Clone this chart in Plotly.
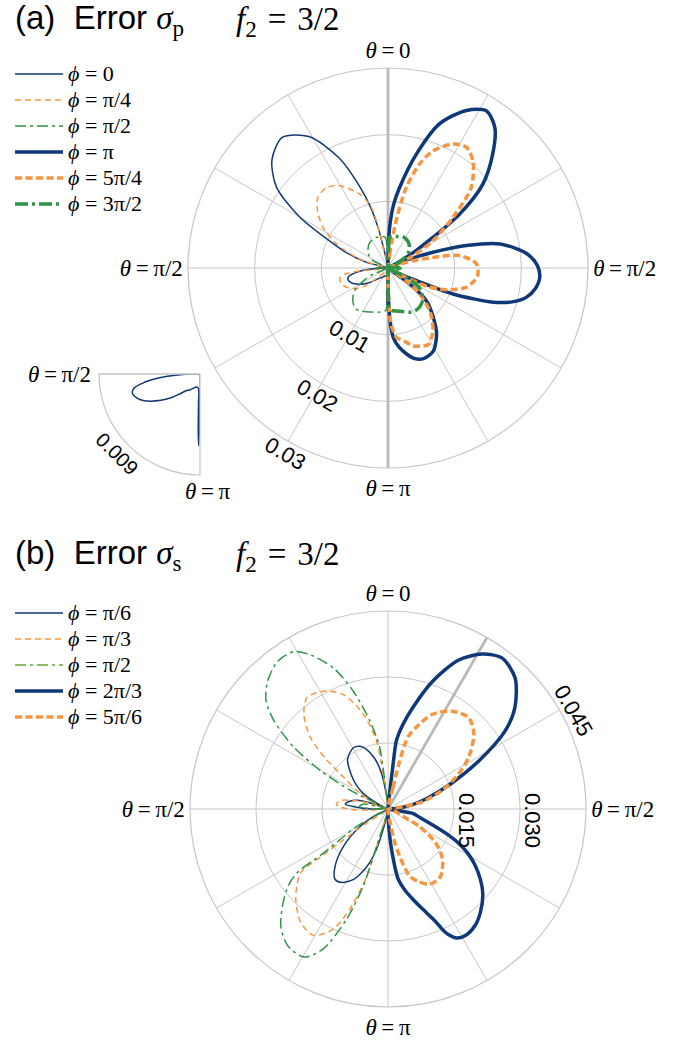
import math
import plotly.graph_objects as go

W, H = 693, 1040
NAVY = "#0f3878"
ORANGE = "#f8953f"
GREEN = "#2e9446"
GREEN_LEG_B = "#67a82c"
GRID = "#c6c6c6"
THICKGRID = "#b9b9b9"
SERIF = "Liberation Serif, DejaVu Serif, serif"
SANS = "Liberation Sans, Arial, sans-serif"

# ---------------- data: panel (a), r in units of 1e-3 ----------------
a_phi0_theta = [179, 180.3, 181, 181.8, 183, 186, 195, 205, 213, 219, 226, 231, 236, 241, 245, 249, 254, 258,
                261.5, 264, 266, 268, 270, 273, 285, 290, 294, 300, 306, 313, 321, 329, 336, 341, 344, 346.3,
                347.5, 349]
a_phi0_r = [0, 3, 6.4, 5, 2.5, 1.3, 1.2, 1.4, 1.7, 1.9, 2.6, 3.4, 4.2, 5.0, 5.6, 6.0, 6.26, 6.0,
            5.0, 4.0, 2.9, 1.8, 0.8, 0, 3.4, 6.5, 9.0, 15.3, 20.7, 23.8, 25.2, 23.0, 18.1, 12.8, 9.5, 6.0,
            3.0, 0]

a_phi1_theta = [222, 228, 233, 242, 251, 258, 262, 264, 266, 285, 288.6, 295, 302, 309, 315, 322.6, 329.6,
                339, 343, 345.3, 346.3, 347, 348]
a_phi1_r = [0, 2.4, 4.7, 6.5, 7.35, 7.4, 6.5, 4, 0, 2.3, 5, 8.5, 11.5, 13.6, 14.9, 15.2, 14.3,
            11.9, 10.3, 8.9, 5.3, 2.2, 0]

a_phi2_theta = [180, 181, 183, 190, 199, 206, 212, 218, 225, 233, 238, 243, 247, 252, 262, 268, 275, 285,
                296, 303, 311, 324, 339, 350, 355, 358, 360]
a_phi2_r = [0, 5, 6.4, 6.7, 7.0, 7.3, 7.6, 7.8, 7.4, 6.5, 5.5, 4.0, 2.5, 0, 1.2, 1.8, 1.3, 0,
            2.5, 3.4, 4.0, 4.7, 4.9, 4.8, 4.6, 3.0, 0]

a_phi3_theta = [0, 1, 2.3, 5, 8.2, 14, 19.7, 26.5, 32, 37.2, 42.6, 48.5, 53, 55.7, 58, 60, 62, 63.5,
                67, 70.8, 74, 77.9, 84, 89, 93.5, 98, 102, 105, 108, 111.8, 114, 117, 119.5,
                126, 130.5, 137.6, 143.7, 151.4, 158.6, 164, 167.8, 172, 175.6, 178, 179.3, 180]
a_phi3_r = [0, 3, 6.1, 9.5, 12.2, 17.6, 23.0, 26.4, 27.8, 26.5, 23.2, 19.0, 13.5, 8.2, 5, 3, 1, 0,
            3, 7.15, 12.2, 17.2, 20.9, 22.4, 22.8, 22.3, 21.2, 19.5, 16.6, 10.5, 4.7, 1.5, 0,
            3.5, 7.6, 10.1, 12.3, 14.2, 14.6, 14.1, 13.2, 12, 10.5, 7.5, 4, 0]

a_phi4_theta = [5, 7, 8.5, 10, 12.8, 16.9, 21, 27.7, 33, 38.4, 45.9, 52, 58.7, 64, 68, 70,
                73, 76.7, 80.2, 87.4, 94.9, 99, 103.9, 109, 112, 115, 117.5, 120,
                124, 129.4, 135.7, 140, 144.3, 148, 152.2, 155.7, 162, 166, 172.9, 176, 177.7, 179.3, 180]
a_phi4_r = [0, 2, 4.5, 7.7, 12.4, 16.3, 18.8, 21.0, 21.6, 20.5, 17.4, 12.4, 7.9, 4.2, 1.5, 0,
            3, 6.9, 10.9, 13.3, 13.5, 13, 12.1, 10, 8.5, 6.5, 3, 0,
            3, 6.1, 9.0, 10.3, 11.6, 12.3, 13.0, 12.8, 12.3, 11.5, 10.5, 9, 7.5, 4, 0]

a_phi5_theta = [0, 1.5, 3, 8, 15, 25, 33, 41, 48, 54, 63, 70, 85, 92, 98, 105,
                117, 122, 127, 133, 140, 146, 152, 160, 168, 175, 178, 179.2, 180]
a_phi5_r = [0, 3, 4.6, 4.8, 4.9, 5.2, 5.1, 4.8, 4.3, 3.7, 2.0, 0, 1.3, 1.8, 1.2, 0,
            3.0, 5.5, 6.4, 7.1, 7.5, 7.6, 7.5, 7.0, 6.6, 6.4, 6.2, 4, 0]

# ---------------- data: panel (b) ----------------
b_phi0_theta = [192, 193.5, 196, 199, 203, 206, 212, 217, 222.8, 230, 238, 244, 248, 270, 272, 276.6, 281,
                286, 289, 291, 296, 302, 307, 312.9, 321, 330.5, 336, 340, 345, 349, 352, 355]
b_phi0_r = [0, 5, 9.5, 13, 16, 17.8, 19.7, 20, 17.7, 13.2, 7.5, 3, 0, 4, 6, 9.75, 9,
            7.3, 4, 0, 2, 6.6, 9, 11.4, 14.6, 16, 15.6, 14.5, 12, 9, 5, 0]

b_phi1_theta = [194, 195.5, 196.5, 197, 197.5, 199, 200.8, 204.4, 210.4, 217.7, 225.7, 230, 233.9, 234.6,
                235.2, 236.5, 238, 266, 270, 275, 280, 285, 288, 290, 296, 301, 305.7, 308.8, 312.7,
                318.4, 324, 331.4, 338.7, 345.4, 350.4, 352, 353.5, 354.5]
b_phi1_r = [0, 3, 6, 10, 16, 20, 24.3, 29.9, 33.3, 32.5, 29.3, 27, 24.6, 18,
            13.3, 5.8, 0, 4, 9, 11.8, 11, 7, 3, 0, 4.6, 8.5, 12.5, 18, 24,
            28.8, 31.3, 30.5, 27.9, 22.3, 15.7, 8.1, 3, 0]

b_phi2_theta = [194, 195.5, 197, 197.8, 200.6, 204.8, 209.6, 216.4, 222.6, 229.1, 233, 235, 235.7, 238,
                240.8, 242, 243, 270, 275, 280, 285, 289, 295.9, 296.4, 299.7, 303.3, 307.7, 311.5, 316.7,
                323.2, 329.1, 333.3, 338.9, 343.6, 348.4, 352.4, 353.4, 354.5, 355]
b_phi2_r = [0, 4, 8.9, 18.4, 26.7, 35, 38.7, 38.5, 36, 31.3, 28, 25, 17.7, 12,
            8.2, 4, 0, 3, 6.5, 6, 2.5, 0, 2.9, 9.6, 17.7, 25.6, 32.7, 37, 39.9,
            41.9, 41.7, 39.2, 34.3, 27.9, 20.4, 14.1, 6.6, 2, 0]

b_phi3_theta = [5, 6, 6.5, 7, 10, 13.7, 19.2, 25.4, 31.3, 37, 44.1, 51.4, 56.3, 62, 68, 75, 80, 86, 91,
                100, 105, 109.6, 113, 116, 119, 122.5, 127.3, 132, 138.2, 143, 148.5, 152, 155, 157.3,
                161, 165, 168, 171.7, 175, 177.5, 179]
b_phi3_r = [0, 4.3, 10, 15.6, 19.5, 23.7, 30.7, 37.5, 41.2, 43, 41.5, 36.9, 32, 23.5, 15.5, 9, 5.5, 2, 0,
            5.7, 7.5, 10.7, 14.5, 18, 20.7, 23.3, 26.4, 29, 31.5, 33, 33.7, 33.2, 31, 27.5,
            24, 21, 19, 16.1, 9.2, 4, 0]

b_phi4_theta = [12, 13, 13.5, 14.5, 16, 19, 25.2, 33.3, 41.5, 48.9, 57.3, 63.5, 70.9, 78.2, 81, 85,
                106, 112, 116, 119.2, 125.4, 132.8, 141.8, 146, 151.3, 157, 162.2, 164, 166.2, 168.5, 171, 173]
b_phi4_r = [0, 5, 10, 15, 17.5, 19.6, 23.8, 26.6, 27.7, 25.9, 21.8, 18, 13.1, 8.0, 3.4, 0,
            1.5, 2.5, 3.8, 8.2, 13.3, 16.9, 19.4, 19.7, 19.5, 18, 16, 14, 11, 7.9, 3, 0]

# axis ranges / tick labels
A_RMAX, A_RTICKS, A_RTEXT = 30, [10, 20, 30], ["0.01", "0.02", "0.03"]
B_RMAX, B_RTICKS, B_RTEXT = 45, [15, 30, 45], ["0.015", "0.030", "0.045"]
I_RMAX, I_RTEXT = 9, "0.009"

# ---------------- layout geometry (px) ----------------
A_BOX = (188, 68, 400)   # left, top, size
B_BOX = (190, 611, 396)
I_BOX = (99, 374, 101)


def dom(box):
    l, t, s = box
    return dict(x=[l / W, (l + s) / W], y=[1 - (t + s) / H, 1 - t / H])


def polar_pos(cx, cy, rpx, ang):
    a = math.radians(ang)
    return (cx + rpx * math.sin(a)) / W, 1 - (cy - rpx * math.cos(a)) / H


EQ = "\u2009=\u2009"
EQ_LEG = " = "
ANG_VALS = list(range(0, 360, 30))
ANG_TEXT = ["" for _ in ANG_VALS]
ANG_TEXT[0] = "<i>θ</i>" + EQ + "0"
ANG_TEXT[3] = "<i>θ</i>" + EQ + "π/2"
ANG_TEXT[6] = "<i>θ</i>" + EQ + "π"
ANG_TEXT[9] = "<i>θ</i>" + EQ + "π/2"
TICKFONT = dict(family=SERIF, size=23, color="black")


def main_polar(box, rmax, rticks):
    return dict(
        domain=dom(box), bgcolor="white",
        angularaxis=dict(rotation=90, direction="clockwise", tickmode="array", tickvals=ANG_VALS,
                         ticktext=ANG_TEXT, showline=True, linecolor=GRID, linewidth=1.2,
                         gridcolor=GRID, gridwidth=1.1, ticks="", tickfont=TICKFONT),
        radialaxis=dict(range=[0, rmax], tickmode="array", tickvals=rticks, showticklabels=False,
                        ticks="", showline=False, gridcolor=GRID, gridwidth=1.1),
    )


fig = go.Figure()

# thick gray axis lines
fig.add_trace(go.Scatterpolar(r=[A_RMAX, 0, A_RMAX], theta=[0, 0, 180], mode="lines",
                              line=dict(color=THICKGRID, width=2.8), showlegend=False,
                              hoverinfo="skip", subplot="polar"))
fig.add_trace(go.Scatterpolar(r=[0, B_RMAX], theta=[30, 30], mode="lines",
                              line=dict(color=THICKGRID, width=2.8), showlegend=False,
                              hoverinfo="skip", subplot="polar2"))


def phi_label(s):
    return "<span style='font-size:22px'><i>\u03d5</i>" + EQ_LEG + s + "</span>"


THIN, THICK = 1.5, 3.5
D_THIN_OR = "6px,4px"
D_THIN_GR = "11px,4px,3px,4px"
D_THICK_OR = "7px,3.5px"
D_THICK_GR = "13px,4px,3px,4px"

a_series = [
    (a_phi0_theta, a_phi0_r, "0", NAVY, THIN, "solid"),
    (a_phi1_theta, a_phi1_r, "π/4", ORANGE, THIN, D_THIN_OR),
    (a_phi2_theta, a_phi2_r, "π/2", GREEN, THIN, D_THIN_GR),
    (a_phi3_theta, a_phi3_r, "π", NAVY, THICK, "solid"),
    (a_phi4_theta, a_phi4_r, "5π/4", ORANGE, THICK, D_THICK_OR),
    (a_phi5_theta, a_phi5_r, "3π/2", GREEN, THICK, D_THICK_GR),
]
for th, r, nm, col, lw, dash in a_series:
    fig.add_trace(go.Scatterpolar(r=r, theta=th, mode="lines", name=phi_label(nm),
                                  line=dict(color=col, width=lw, dash=dash, shape="spline", smoothing=0.8),
                                  subplot="polar", legend="legend", hoverinfo="skip"))

b_series = [
    (b_phi0_theta, b_phi0_r, "π/6", NAVY, NAVY, THIN, "solid"),
    (b_phi1_theta, b_phi1_r, "π/3", ORANGE, ORANGE, THIN, D_THIN_OR),
    (b_phi2_theta, b_phi2_r, "π/2", GREEN, GREEN_LEG_B, THIN, D_THIN_GR),
    (b_phi3_theta, b_phi3_r, "2π/3", NAVY, NAVY, THICK, "solid"),
    (b_phi4_theta, b_phi4_r, "5π/6", ORANGE, ORANGE, THICK, D_THICK_OR),
]
for th, r, nm, col, legcol, lw, dash in b_series:
    same = legcol == col
    fig.add_trace(go.Scatterpolar(r=r, theta=th, mode="lines", name=phi_label(nm),
                                  line=dict(color=col, width=lw, dash=dash, shape="spline", smoothing=0.8),
                                  subplot="polar2", legend="legend2", showlegend=same, hoverinfo="skip"))
    if not same:
        # legend swatch in the colour used by the reference legend
        fig.add_trace(go.Scatterpolar(r=[None], theta=[None], mode="lines", name=phi_label(nm),
                                      line=dict(color=legcol, width=lw, dash=dash),
                                      subplot="polar2", legend="legend2", hoverinfo="skip"))

# inset: zoom of phi=0
fig.add_trace(go.Scatterpolar(r=a_phi0_r, theta=a_phi0_theta, mode="lines",
                              line=dict(color=NAVY, width=THIN, shape="spline", smoothing=0.8),
                              subplot="polar3", showlegend=False, hoverinfo="skip"))

annotations = []


def add_text(text, xp, yp, size, family=SANS, angle=0, xa="center", ya="middle"):
    annotations.append(dict(text=text, x=xp, y=yp, xref="paper", yref="paper", xanchor=xa, yanchor=ya,
                            showarrow=False, textangle=angle, font=dict(family=family, size=size, color="black")))


# titles
for lab, sub, ypx in [("(a)", "p", 20), ("(b)", "s", 555)]:
    add_text(lab + "  Error <span style='font-family:Liberation Serif'><i>σ</i><sub>" + sub + "</sub></span>",
             13 / W, 1 - ypx / H, 33, xa="left")
    add_text("<i>f</i><sub>2</sub>\u2004=\u20043/2", 234 / W, 1 - (ypx + 1) / H, 33, family=SERIF, xa="left")

# radial tick labels
acx, acy, ar = A_BOX[0] + A_BOX[2] / 2, A_BOX[1] + A_BOX[2] / 2, A_BOX[2] / 2
for v, t in zip(A_RTICKS, A_RTEXT):
    x, y = polar_pos(acx, acy, ar * v / A_RMAX + 12, 209)
    add_text(t, x, y, 22, angle=30)
bcx, bcy, br = B_BOX[0] + B_BOX[2] / 2, B_BOX[1] + B_BOX[2] / 2, B_BOX[2] / 2
for v, t in zip(B_RTICKS[:2], B_RTEXT[:2]):
    x, y = polar_pos(bcx, bcy, br * v / B_RMAX + 13, 90)
    add_text(t, x, y - 11 / H, 22, angle=90)
x, y = polar_pos(bcx, bcy, br * B_RTICKS[2] / B_RMAX + 12, 62)
add_text(B_RTEXT[2], x, y, 22, angle=60)
icx, icy, ir = I_BOX[0] + I_BOX[2], I_BOX[1], I_BOX[2]
x, y = polar_pos(icx, icy, ir + 14, 226)
add_text(I_RTEXT, x, y, 20, angle=45)
# inset angular labels
add_text("<i>θ</i>" + EQ + "π/2", (I_BOX[0] - 6) / W, 1 - I_BOX[1] / H, 23, family=SERIF, xa="right")
add_text("<i>θ</i>" + EQ + "π", (icx + 7) / W, 1 - (I_BOX[1] + I_BOX[2] + 16) / H, 23, family=SERIF)

legend_common = dict(xanchor="left", yanchor="top", bgcolor="rgba(0,0,0,0)", itemwidth=48,
                     font=dict(family=SERIF, size=17.7, color="black"), tracegroupgap=0)

fig.update_layout(
    width=W, height=H, margin=dict(l=0, r=0, t=0, b=0),
    paper_bgcolor="white", plot_bgcolor="white",
    polar=main_polar(A_BOX, A_RMAX, A_RTICKS),
    polar2=main_polar(B_BOX, B_RMAX, B_RTICKS),
    polar3=dict(
        domain=dom(I_BOX), sector=[180, 270], bgcolor="white",
        angularaxis=dict(rotation=90, direction="clockwise", tickmode="array", tickvals=[180, 270],
                         ticktext=["", ""], showline=True, linecolor=GRID,
                         linewidth=1.2, gridcolor=GRID, gridwidth=1.2, ticks=""),
        radialaxis=dict(range=[0, I_RMAX], showgrid=False, showticklabels=False, ticks="",
                        showline=True, linecolor=GRID, linewidth=1.2),
    ),
    legend=dict(x=10 / W, y=1 - 56 / H, **legend_common),
    legend2=dict(x=10 / W, y=1 - 595 / H, **legend_common),
    annotations=annotations,
    showlegend=True,
)

fig.write_html("out.html")
